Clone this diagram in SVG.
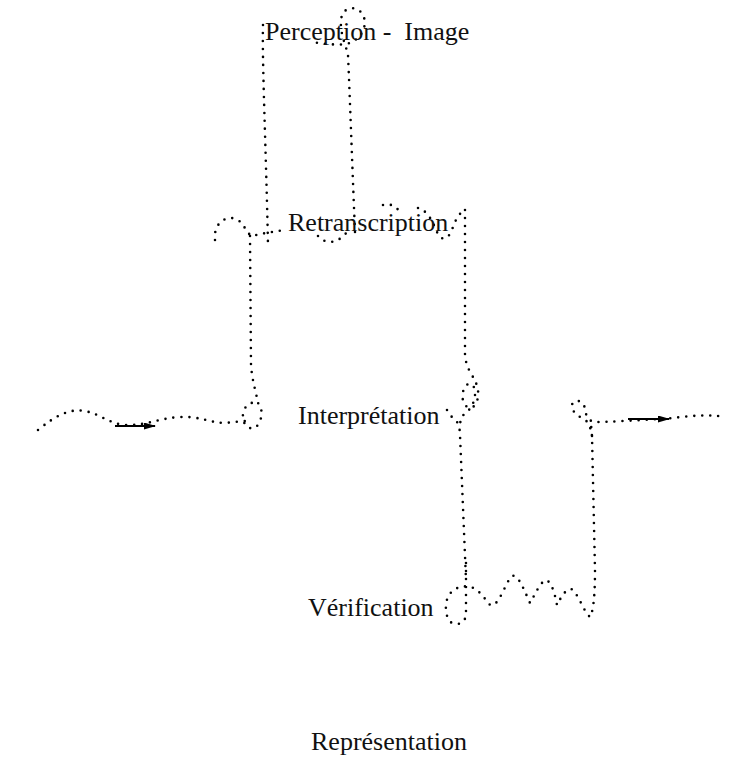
<svg xmlns="http://www.w3.org/2000/svg" width="742" height="783" viewBox="0 0 742 783">
<style>
.lbl{font-family:"Liberation Serif","Times New Roman",serif;font-size:26px;fill:#111}
.dot{fill:none;stroke:#000;stroke-width:2.6;stroke-linecap:round;stroke-dasharray:0 8}
.arr{fill:none;stroke:#000;stroke-width:1.8;marker-end:url(#ah)}
</style>
<defs>
<marker id="ah" viewBox="0 0 12 7" refX="11" refY="3.5" markerWidth="12" markerHeight="7" markerUnits="userSpaceOnUse" orient="auto">
<path d="M0,0 L12,3.5 L0,7 Z" fill="#000"/>
</marker>
</defs>
<rect width="742" height="783" fill="#fff"/>
<g id="connectors">
<path class="dot" d="M263,25 C262,60 266,150 268,245"/>
<path class="dot" d="M355,232 C352,160 350,100 348,55 C346,45 338,30 342,15 C346,6 358,6 363,15 C368,25 362,38 350,43 C340,46 325,44 312,42"/>
<path class="dot" d="M215,240 C213,222 228,214 238,220 C245,225 246,233 252,236 C260,234 270,232 285,230"/>
<path class="dot" d="M318,236 C325,244 338,246 350,228"/>
<path class="dot" d="M383,205 C388,203 395,205 400,212"/>
<path class="dot" d="M418,208 C425,210 430,215 437,232 C440,240 447,242 452,230 C455,220 460,212 465,210"/>
<path class="dot" d="M250,236 L251,365 C252,380 256,392 258,403 C264,410 262,422 255,428 C248,430 242,424 243,414 C245,404 252,400 258,405"/>
<path class="dot" d="M38,430 C55,416 70,408 85,411 C100,414 110,424 125,425 C145,426 160,418 180,417 C200,416 210,423 225,423 L245,421"/>
<line class="arr" x1="115" y1="426" x2="155" y2="426"/>
<path class="dot" d="M465,210 L465,355 C466,368 472,374 475,381 C480,390 479,402 473,407 C466,410 461,402 463,392 C465,383 472,380 475,390 C476,402 470,411 462,416 C460,422 459,428 460,435 L466,580"/>
<path class="dot" d="M447,410 C452,418 456,422 460,424"/>
<path class="dot" d="M466,563 L466,613 C466,622 460,626 452,623 C445,619 444,603 449,595 C454,588 462,585 470,587 C477,588 482,595 490,605 C497,608 503,590 510,578 C516,570 522,585 530,603 C535,595 540,582 546,580 C552,582 555,595 557,605 C562,595 568,586 573,590 C580,598 584,612 590,617 C594,610 595,590 595,570 L592,436 L591,424"/>
<path class="dot" d="M592,436 C591,428 588,420 582,418 C574,414 570,408 573,402 C578,399 584,402 585,409 C586,416 588,421 595,422 C610,422 640,420 660,419 C680,418 700,413 726,417"/>
<line class="arr" x1="628" y1="419" x2="669" y2="419"/>
</g>
<g id="node-perception"><text class="lbl" x="265" y="40" xml:space="preserve">Perception -  Image</text></g>
<g id="node-retranscription"><text class="lbl" x="288" y="231">Retranscription</text></g>
<g id="node-interpretation"><text class="lbl" x="298" y="424">Interprétation</text></g>
<g id="node-verification"><text class="lbl" x="308" y="616">Vérification</text></g>
<g id="node-representation"><text class="lbl" x="311" y="750">Représentation</text></g>
</svg>
